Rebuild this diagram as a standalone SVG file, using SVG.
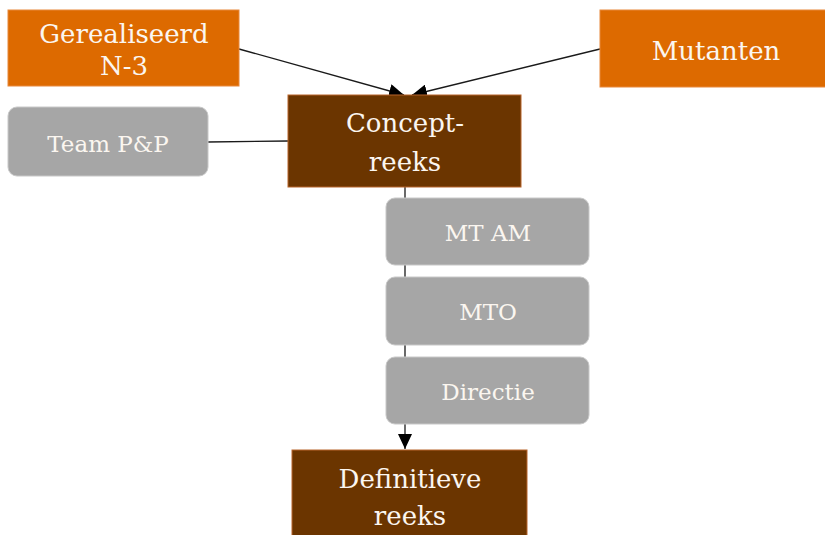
<svg xmlns="http://www.w3.org/2000/svg" width="825" height="535" viewBox="0 0 825 535">
<style>
.orange{fill:#DD6A00;stroke:#E8883A;stroke-width:1}
.brown{fill:#6B3500;stroke:#B8652A;stroke-width:1}
.gray{fill:#A6A6A6;stroke:#C8C8C8;stroke-width:1}
.t{font-family:"DejaVu Serif","Liberation Serif",serif;fill:#FBF6F0;text-anchor:middle}
.big{font-size:26px}
.small{font-size:23px}
.conn{stroke:#1a1a1a;stroke-width:1.3;fill:none}
</style>
<defs>
<marker id="arr" markerUnits="userSpaceOnUse" markerWidth="16" markerHeight="14" refX="15" refY="7" orient="auto">
<path d="M0,0 L15,7 L0,14 Z" fill="#000"/>
</marker>
</defs>
<rect width="825" height="535" fill="#fff"/>
<g id="connectors">
<line class="conn" x1="239" y1="49" x2="404" y2="95" marker-end="url(#arr)"/>
<line class="conn" x1="600" y1="49" x2="412" y2="95" marker-end="url(#arr)"/>
<line class="conn" x1="208" y1="142" x2="288" y2="141"/>
<line class="conn" x1="405" y1="187" x2="405" y2="449" marker-end="url(#arr)"/>
</g>
<g id="gerealiseerd">
<rect class="orange" x="8" y="10" width="231" height="76"/>
<text class="t big" x="124" y="43">Gerealiseerd</text>
<text class="t big" x="124" y="75">N-3</text>
</g>
<g id="mutanten">
<rect class="orange" x="600" y="10" width="226" height="77"/>
<text class="t big" x="716" y="60">Mutanten</text>
</g>
<g id="concept">
<rect class="brown" x="288" y="95" width="233" height="92"/>
<text class="t big" x="405" y="132">Concept-</text>
<text class="t big" x="405" y="171">reeks</text>
</g>
<g id="team">
<rect class="gray" x="8" y="107" width="200" height="69" rx="9"/>
<text class="t small" x="108" y="152">Team P&amp;P</text>
</g>
<g id="mtam">
<rect class="gray" x="386" y="198" width="203" height="67" rx="9"/>
<text class="t small" x="488" y="241">MT AM</text>
</g>
<g id="mto">
<rect class="gray" x="386" y="277" width="203" height="68" rx="9"/>
<text class="t small" x="488" y="320">MTO</text>
</g>
<g id="directie">
<rect class="gray" x="386" y="357" width="203" height="67" rx="9"/>
<text class="t small" x="488" y="400">Directie</text>
</g>
<g id="definitieve">
<rect class="brown" x="292" y="450" width="235" height="90"/>
<text class="t big" x="410" y="488">Definitieve</text>
<text class="t big" x="410" y="525">reeks</text>
</g>
</svg>
